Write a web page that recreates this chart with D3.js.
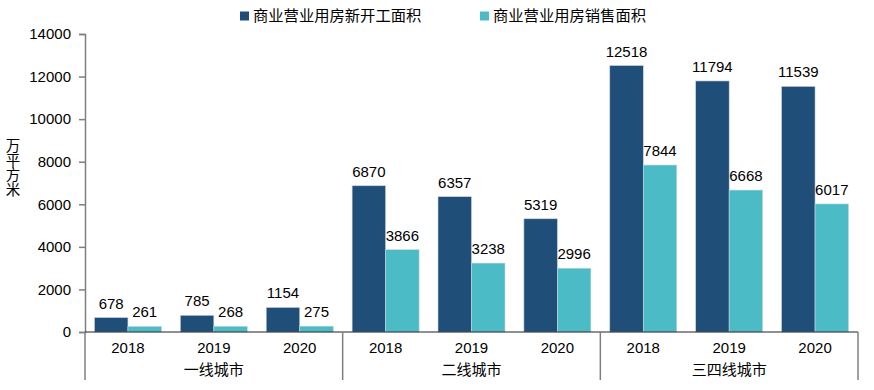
<!DOCTYPE html>
<html><head><meta charset="utf-8">
<script src="https://cdn.jsdelivr.net/npm/d3@7"></script>
<style>body{margin:0;background:#fff;}svg{display:block;font-family:Arial,"Liberation Sans","Noto Sans CJK SC",sans-serif;}</style>
</head><body><svg id="c" width="874" height="390"></svg>
<script>
const groups = ["一线城市","二线城市","三四线城市"];
const years = ["2018","2019","2020"];
const seriesNames = ["商业营业用房新开工面积","商业营业用房销售面积"];
const newStart = [678,785,1154,6870,6357,5319,12518,11794,11539];
const sales = [261,268,275,3866,3238,2996,7844,6668,6017];
const yTicks = [0,2000,4000,6000,8000,10000,12000,14000];
const colors = ["#1F4E79","#4BBCC6"];

const svg = d3.select("#c");
const x0 = 85, x1 = 858, yTop = 34, yBase = 332;
const cats = [];
groups.forEach((g,gi)=>years.forEach((yr,yi)=>cats.push({g,yr,i:gi*3+yi})));
const x = d3.scaleBand().domain(cats.map(c=>c.i)).range([x0,x1]).paddingInner(0.22).paddingOuter(0.11);
const xs = d3.scaleBand().domain([0,1]).range([0,x.bandwidth()]);
const y = d3.scaleLinear().domain([0,14000]).range([yBase,yTop]);
const fs = 15;

// y axis
const yAxis = svg.append("g").attr("transform",`translate(${x0},0)`)
  .call(d3.axisLeft(y).tickValues(yTicks).tickSize(6).tickPadding(8).tickFormat(d=>d));
yAxis.select(".domain").attr("stroke","#7f7f7f").attr("stroke-width",1.5);
yAxis.selectAll(".tick line").attr("stroke","#7f7f7f").attr("stroke-width",1.5);
yAxis.selectAll("text").attr("font-size",fs).attr("fill","#000");

// y label stacked
const ylab = svg.append("text").attr("font-size",14.5).attr("fill","#000").attr("text-anchor","middle");
"万平方米".split("").forEach((ch,i)=>ylab.append("tspan").attr("x",13).attr("y",151+i*14.5).text(ch));

// bars
const data = cats.map(c=>({c,vals:[newStart[c.i],sales[c.i]]}));
data.forEach(d=>{
  d.vals.forEach((v,si)=>{
    const bx = x(d.c.i)+xs(si);
    svg.append("rect").attr("x",bx).attr("y",y(v)).attr("width",xs.bandwidth()).attr("height",yBase-y(v))
      .attr("fill",colors[si]).attr("stroke","#c8d4e0").attr("stroke-width",0.6);
    svg.append("text").attr("x",bx+xs.bandwidth()/2).attr("y",y(v)-9).attr("text-anchor","middle")
      .attr("font-size",fs).attr("fill","#000").text(v);
  });
});

// x baseline
svg.append("line").attr("x1",x0).attr("x2",x1).attr("y1",yBase).attr("y2",yBase).attr("stroke","#222").attr("stroke-width",1.2);
// year labels
cats.forEach(c=>{
  svg.append("text").attr("x",x(c.i)+x.bandwidth()/2).attr("y",352.5).attr("text-anchor","middle")
    .attr("font-size",fs).attr("fill","#000").text(c.yr);
});
// group separators
const step = (x1-x0)/groups.length;
for(let k=0;k<=groups.length;k++){
  const gx = x0+k*step;
  svg.append("line").attr("x1",gx).attr("x2",gx).attr("y1",yBase).attr("y2",380).attr("stroke","#7f7f7f").attr("stroke-width",1.5);
}
groups.forEach((g,gi)=>{
  svg.append("text").attr("x",x0+gi*step+step/2).attr("y",375).attr("text-anchor","middle")
    .attr("font-size",fs).attr("fill","#000").text(g);
});

// legend
const legX = [240,480];
seriesNames.forEach((n,i)=>{
  svg.append("rect").attr("x",legX[i]).attr("y",11.5).attr("width",9).attr("height",9).attr("fill",colors[i]);
  svg.append("text").attr("x",legX[i]+13).attr("y",21).attr("font-size",15.3).attr("fill","#000").text(n);
});
</script></body></html>
